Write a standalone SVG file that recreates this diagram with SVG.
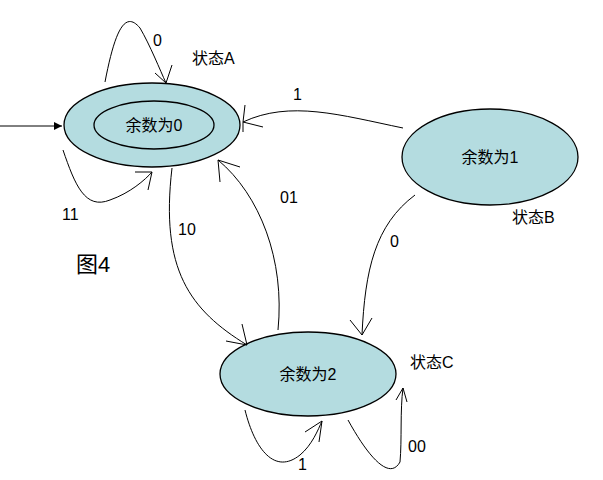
<svg xmlns="http://www.w3.org/2000/svg" width="603" height="480" viewBox="0 0 603 480">
<style>
.n{fill:#b4dce0;stroke:#000;stroke-width:1.3}
.e{fill:none;stroke:#000;stroke-width:1}
text{font-family:"Liberation Sans","Noto Sans CJK SC",sans-serif;font-size:16px;fill:#000}
.t{text-anchor:middle}
</style>
<defs><marker id="a" markerWidth="8" markerHeight="8" refX="8" refY="4" orient="auto" markerUnits="userSpaceOnUse"><path d="M0,0L8,4L0,8z"/></marker></defs>
<rect width="603" height="480" fill="#fff"/>
<g id="A"><ellipse class="n" cx="152" cy="125" rx="88" ry="42"/><ellipse class="n" cx="154" cy="125" rx="60" ry="24"/><text class="t" x="154" y="131">余数为0</text></g>
<g id="B"><ellipse class="n" cx="490" cy="157" rx="88" ry="48"/><text class="t" x="490" y="163">余数为1</text></g>
<g id="C"><ellipse class="n" cx="308" cy="374" rx="88" ry="42"/><text class="t" x="308" y="380">余数为2</text></g>
<g id="edges">
<path class="e" d="M0,126H62" marker-end="url(#a)"/>
<path class="e" d="M105,82C115,30 125,10 140,28C150,45 160,70 166,83M155,73L166,83L172,65"/>
<path class="e" d="M63,150C75,185 85,210 110,200C130,193 145,180 152,172M135,172L152,172L148,190"/>
<path class="e" d="M403,128C340,115 290,100 243,122M245,105L243,122M243,132L243,122L263,127"/>
<path class="e" d="M278,330C285,260 260,195 218,160M220,182L218,160L240,167"/>
<path class="e" d="M172,168C160,270 190,310 247,345M226,341L247,345L242,324"/>
<path class="e" d="M415,195C375,225 365,270 362,335M350,320L362,335L372,318"/>
<path class="e" d="M245,410C255,450 275,475 300,455C312,445 318,430 322,421M305,432L322,421L319,442"/>
<path class="e" d="M348,420C370,460 390,480 400,462C402,440 400,410 403,388M396,400L403,388L407,402"/>
</g>
<text x="153" y="46">0</text>
<text x="192" y="64">状态A</text>
<text x="293" y="100">1</text>
<text x="280" y="203">01</text>
<text x="178" y="235">10</text>
<text x="62" y="220">11</text>
<text x="390" y="247">0</text>
<text x="512" y="223">状态B</text>
<text x="410" y="368">状态C</text>
<text x="298" y="470">1</text>
<text x="408" y="452">00</text>
<text x="76" y="272" style="font-size:22px">图4</text>
</svg>
